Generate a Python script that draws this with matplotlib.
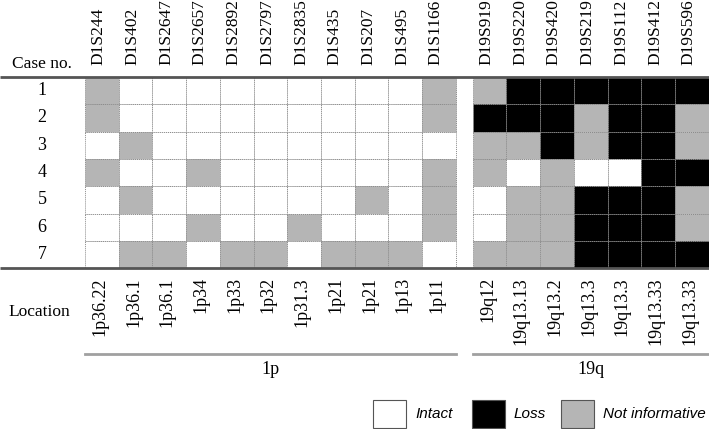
import matplotlib
matplotlib.use('Agg')
import matplotlib.pyplot as plt
from matplotlib.patches import Rectangle

plt.rcParams['font.family'] = ['Liberation Serif', 'DejaVu Serif']

###############################################################################
# Data
###############################################################################
markers_1p = ['D1S244', 'D1S402', 'D1S2647', 'D1S2657', 'D1S2892', 'D1S2797',
              'D1S2835', 'D1S435', 'D1S207', 'D1S495', 'D1S1166']
markers_19q = ['D19S919', 'D19S220', 'D19S420', 'D19S219', 'D19S112',
               'D19S412', 'D19S596']
loc_1p = ['1p36.22', '1p36.1', '1p36.1', '1p34', '1p33', '1p32', '1p31.3',
          '1p21', '1p21', '1p13', '1p11']
loc_19q = ['19q12', '19q13.13', '19q13.2', '19q13.3', '19q13.3', '19q13.33',
           '19q13.33']
cases = ['1', '2', '3', '4', '5', '6', '7']

# I = intact, L = loss, N = not informative
status_1p = ['NIIIIIIIIIN',
             'NIIIIIIIIIN',
             'INIIIIIIIII',
             'NIINIIIIIIN',
             'INIIIIIININ',
             'IIINIINIIIN',
             'INNINNINNNI']
status_19q = ['NLLLLLL',
              'LLLNLLN',
              'NNLNLLN',
              'NINIILL',
              'INNLLLN',
              'INNLLLN',
              'NNNLLLL']

colors = {'I': 'white', 'L': 'black', 'N': '#b5b5b5'}
legend_items = [('I', 'Intact'), ('L', 'Loss'), ('N', 'Not informative')]

###############################################################################
# Layout (pixels)
###############################################################################
W, H = 709, 429
x0, cw, gap = 85, 33.7, 17
y0, rh = 77, 27.3

fig = plt.figure(figsize=(W / 100, H / 100), dpi=100)
ax = fig.add_axes([0, 0, 1, 1])
ax.set_xlim(0, W)
ax.set_ylim(H, 0)
ax.axis('off')


def col_left(i):
    """left edge of column i (gap after 1p block)"""
    return x0 + i * cw + (gap if i >= len(markers_1p) else 0)


markers = markers_1p + markers_19q
locations = loc_1p + loc_19q
status = [a + b for a, b in zip(status_1p, status_19q)]

for r, row in enumerate(status):
    for c, s in enumerate(row):
        ax.add_patch(Rectangle((col_left(c), y0 + r * rh), cw, rh,
                               facecolor=colors[s], edgecolor='#8a8a8a',
                               lw=0.7, ls=(0, (1, 1))))

for c, name in enumerate(markers):
    xc = col_left(c) + cw / 2
    ax.text(xc - 3, y0 - 12, name, rotation=90, ha='center', va='bottom',
            fontsize=12.5)
    ax.text(xc - 2, y0 + 7 * rh + 9, locations[c], rotation=90, ha='center',
            va='top', fontsize=13)

for r, case in enumerate(cases):
    ax.text(42, y0 + (r + 0.5) * rh, case, ha='center', va='center', fontsize=13)

ax.text(42, y0 - 13, 'Case no.', ha='center', va='center', fontsize=12.5)
ax.text(39, 312, 'Location', ha='center', va='center', fontsize=12.5)

# top / bottom rules
for y in (y0, y0 + 7 * rh):
    ax.plot([0, W], [y, y], color='#555555', lw=2, solid_capstyle='butt')

# group lines and labels
x1p_end = col_left(len(markers_1p) - 1) + cw
x19_start = col_left(len(markers_1p))
x19_end = col_left(len(markers) - 1) + cw
ax.plot([x0, x1p_end], [354, 354], color='#a0a0a0', lw=2)
ax.plot([x19_start, x19_end], [354, 354], color='#a0a0a0', lw=2)
ax.text((x0 + x1p_end) / 2, 369, '1p', ha='center', va='center', fontsize=13)
ax.text((x19_start + x19_end) / 2, 369, '19q', ha='center', va='center',
        fontsize=13)

# legend
leg_x = [373, 472, 561]
for (key, label), lx in zip(legend_items, leg_x):
    ax.add_patch(Rectangle((lx, 400), 33, 28, facecolor=colors[key],
                           edgecolor='#555555', lw=0.8))
    ax.text(lx + 42, 414, label, ha='left', va='center', fontsize=11,
            style='italic', family=['Liberation Sans', 'DejaVu Sans'])

fig.savefig('out.png', dpi=100)
